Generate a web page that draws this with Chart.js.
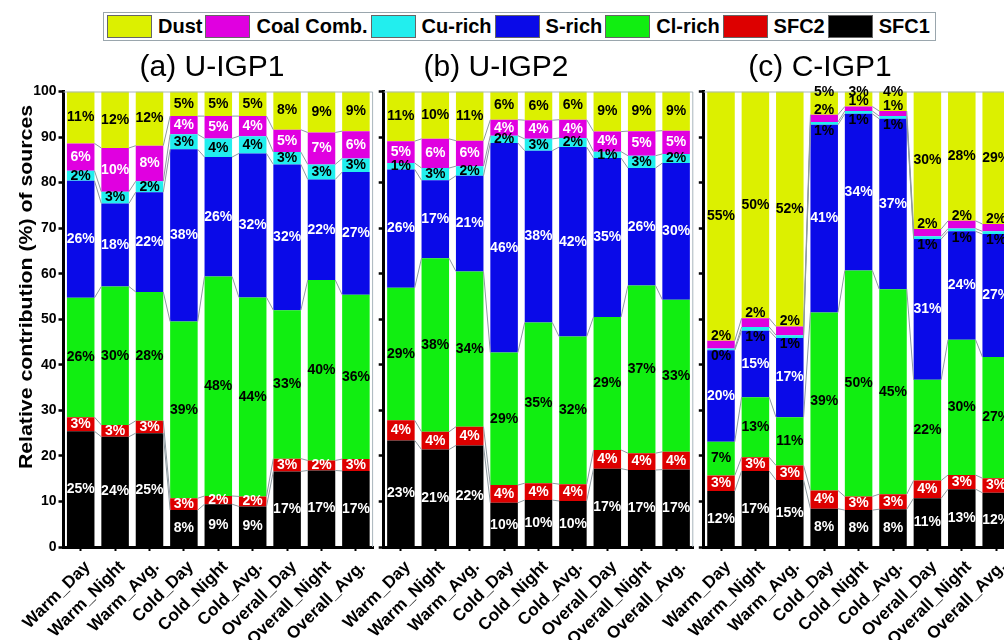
<!DOCTYPE html>
<html>
<head>
<meta charset="utf-8">
<title>Relative contribution of sources</title>
<script src="https://cdn.jsdelivr.net/npm/chart.js@4.4.1/dist/chart.umd.min.js"></script>
<style>
  html, body { margin: 0; padding: 0; background: #fff; width: 1004px; height: 640px; overflow: hidden; }
  #stage { position: relative; width: 1004px; height: 640px; overflow: hidden; background: #fff; }
  #stage canvas { position: absolute; left: 0; top: 0; }
  #legend {
    position: absolute; left: 103px; top: 12px; width: 828px; height: 27px;
    padding-left: 3px; border: 1px solid #9aa6ad; display: flex; align-items: center;
    font: bold 20px "Liberation Sans", Arial, sans-serif; color: #000; z-index: 5; background: #fff;
  }
  #legend .sw { width: 45px; height: 23px; box-sizing: border-box; border: 1px solid #666; margin-right: 6px; flex: none; }
  #legend .tx { margin-right: 3px; white-space: nowrap; line-height: 23px; }
</style>
</head>
<body>
<div id="stage">
  <div id="legend"></div>
  <canvas id="panelA" width="1004" height="640"></canvas>
  <canvas id="panelB" width="1004" height="640"></canvas>
  <canvas id="panelC" width="1040" height="640"></canvas>
</div>
<script>
// ---- data (%) ----
const categories = ['Warm_Day', 'Warm_Night', 'Warm_Avg.', 'Cold_Day', 'Cold_Night', 'Cold_Avg.',
                    'Overall_Day', 'Overall_Night', 'Overall_Avg.'];
const sources = ['SFC1', 'SFC2', 'Cl-rich', 'S-rich', 'Cu-rich', 'Coal Comb.', 'Dust'];
const legendOrder = ['Dust', 'Coal Comb.', 'Cu-rich', 'S-rich', 'Cl-rich', 'SFC2', 'SFC1'];
const panelTitles = ['(a) U-IGP1', '(b) U-IGP2', '(c) C-IGP1'];
const yTickStep = 10;
const yMax = 100;

// U-IGP1
const UIGP1_SFC1 = [25.4, 24.2, 25.0, 8.1, 9.4, 8.9, 16.6, 16.8, 16.7];
const UIGP1_SFC2 = [3.1, 2.6, 2.7, 2.6, 1.8, 2.2, 2.8, 2.2, 2.6];
const UIGP1_Cl   = [26.2, 30.4, 28.3, 38.8, 48.2, 43.7, 32.6, 39.6, 36.1];
const UIGP1_S    = [25.7, 18.2, 21.9, 37.8, 26.2, 31.6, 32.0, 22.1, 26.9];
const UIGP1_Cu   = [2.2, 2.6, 2.4, 3.3, 4.1, 3.8, 2.7, 3.3, 3.0];
const UIGP1_Coal = [6.0, 9.6, 7.8, 4.0, 4.9, 4.4, 4.9, 7.0, 6.0];
const UIGP1_Dust = [11.4, 12.4, 11.9, 5.4, 5.4, 5.4, 8.4, 9.0, 8.7];

// U-IGP2
const UIGP2_SFC1 = [23.4, 21.4, 22.3, 9.7, 10.3, 10.1, 17.2, 16.9, 17.0];
const UIGP2_SFC2 = [4.4, 3.9, 4.1, 3.9, 3.7, 3.7, 4.1, 3.7, 3.9];
const UIGP2_Cl   = [29.1, 38.1, 34.1, 29.1, 35.3, 32.4, 29.2, 36.8, 33.4];
const UIGP2_S    = [26.0, 17.1, 21.0, 46.0, 37.7, 41.6, 34.9, 25.8, 30.0];
const UIGP2_Cu   = [1.4, 2.7, 2.1, 1.6, 2.6, 2.0, 1.4, 2.7, 2.0];
const UIGP2_Coal = [4.8, 6.4, 5.6, 3.5, 4.1, 4.0, 4.4, 5.4, 5.1];
const UIGP2_Dust = [10.9, 10.4, 10.8, 6.2, 6.3, 6.2, 8.8, 8.7, 8.6];

// C-IGP1
const CIGP1_SFC1 = [12.3, 16.7, 14.7, 8.4, 8.1, 8.3, 10.7, 12.7, 11.9];
const CIGP1_SFC2 = [3.4, 3.0, 3.2, 4.0, 3.0, 3.3, 3.9, 3.1, 3.2];
const CIGP1_Cl   = [7.4, 13.2, 10.6, 39.1, 49.6, 45.0, 22.1, 29.7, 26.6];
const CIGP1_S    = [20.1, 14.6, 17.4, 41.2, 34.4, 37.4, 30.9, 23.8, 27.0];
const CIGP1_Cu   = [0.4, 0.8, 0.6, 0.6, 0.6, 0.6, 0.6, 0.6, 0.6];
const CIGP1_Coal = [1.7, 1.9, 1.9, 1.6, 1.0, 1.1, 1.6, 1.7, 1.6];
const CIGP1_Dust = [54.7, 49.8, 51.6, 5.1, 3.3, 4.3, 30.2, 28.4, 29.1];

// ---- styling ----
const FONT = '"Liberation Sans", Arial, Helvetica, sans-serif';
Chart.defaults.font.family = FONT;
const sourceColors = {
  'SFC1': '#000000', 'SFC2': '#dd0000', 'Cl-rich': '#11ee11', 'S-rich': '#0a0ae8',
  'Cu-rich': '#22eeee', 'Coal Comb.': '#e000e0', 'Dust': '#dcf000'
};
const labelColors = {
  'SFC1': '#fff', 'SFC2': '#fff', 'Cl-rich': '#000', 'S-rich': '#fff',
  'Cu-rich': '#000', 'Coal Comb.': '#fff', 'Dust': '#000'
};

// legend strip
const legendEl = document.getElementById('legend');
legendOrder.forEach(name => {
  const sw = document.createElement('span');
  sw.className = 'sw';
  sw.style.background = sourceColors[name];
  const tx = document.createElement('span');
  tx.className = 'tx';
  tx.textContent = name;
  legendEl.appendChild(sw);
  legendEl.appendChild(tx);
});

// common frame geometry
const PLOT_TOP = 91.5, PLOT_BOTTOM = 547, PLOT_W = 309.6, CANVAS_H = 640;

const panels = [
  { canvas: 'panelA', left: 63.5, titleX: 212, yLabels: true, thinStrips: false,
    series: [UIGP1_SFC1, UIGP1_SFC2, UIGP1_Cl, UIGP1_S, UIGP1_Cu, UIGP1_Coal, UIGP1_Dust] },
  { canvas: 'panelB', left: 383.7, titleX: 496, yLabels: false, thinStrips: false,
    series: [UIGP2_SFC1, UIGP2_SFC2, UIGP2_Cl, UIGP2_S, UIGP2_Cu, UIGP2_Coal, UIGP2_Dust] },
  { canvas: 'panelC', left: 703.8, titleX: 820, yLabels: false, thinStrips: true,
    series: [CIGP1_SFC1, CIGP1_SFC2, CIGP1_Cl, CIGP1_S, CIGP1_Cu, CIGP1_Coal, CIGP1_Dust] }
];

// connector lines, frame, segment labels, panel title, y-axis title
const decorations = {
  id: 'decorations',
  afterDatasetsDraw(chart, args, opts) {
    const ctx = chart.ctx, ys = chart.scales.y, area = chart.chartArea;
    const sets = chart.data.datasets;
    ctx.save();

    // thin grey lines joining matching segment tops of neighbouring bars
    ctx.strokeStyle = '#8e9aa0';
    ctx.lineWidth = 1;
    ctx.beginPath();
    for (let d = 0; d < sets.length - 1; d++) {
      const bars = chart.getDatasetMeta(d).data;
      for (let i = 0; i < bars.length - 1; i++) {
        const a = bars[i], b = bars[i + 1];
        ctx.moveTo(a.x + a.width / 2, a.y);
        ctx.lineTo(b.x - b.width / 2, b.y);
      }
    }
    ctx.stroke();

    // light top/right frame
    ctx.strokeStyle = '#a9b6bc';
    ctx.beginPath();
    ctx.moveTo(area.left, area.top + 0.5);
    ctx.lineTo(area.right - 0.5, area.top + 0.5);
    ctx.lineTo(area.right - 0.5, area.bottom);
    ctx.stroke();

    // value labels
    ctx.font = 'bold 14px ' + FONT;
    ctx.textAlign = 'center';
    ctx.textBaseline = 'middle';
    sets.forEach((ds, d) => {
      const name = ds.label;
      chart.getDatasetMeta(d).data.forEach((bar, i) => {
        const v = ds.data[i];
        let below = 0;
        for (let k = 0; k < d; k++) below += sets[k].data[i];
        let cy = (bar.y + bar.base) / 2;
        let color = labelColors[name];
        if (opts.thinStrips) {
          if (name === 'Cu-rich') { cy = ys.getPixelForValue(below - 1.4); color = '#000'; }
          else if (name === 'Coal Comb.') { cy = ys.getPixelForValue(below + v + 1.1); color = '#000'; }
          else if (name === 'Dust' && v < 8) { cy = ys.getPixelForValue(99.8); }
        }
        ctx.fillStyle = color;
        ctx.fillText(Math.round(v) + '%', bar.x, cy);
      });
    });

    // panel title
    ctx.fillStyle = '#000';
    ctx.font = '30px ' + FONT;
    ctx.textBaseline = 'alphabetic';
    ctx.fillText(opts.title, opts.titleX, 76);

    // y-axis title
    if (opts.yTitle) {
      ctx.save();
      ctx.translate(27, 287);
      ctx.rotate(-Math.PI / 2);
      ctx.scale(1.12, 1);
      ctx.font = 'bold 19px ' + FONT;
      ctx.textBaseline = 'middle';
      ctx.fillText(opts.yTitle, 0, 0);
      ctx.restore();
    }
    ctx.restore();
  }
};

panels.forEach((p, idx) => {
  const canvas = document.getElementById(p.canvas);
  const cw = canvas.width;
  const right = p.left + PLOT_W;
  new Chart(canvas, {
    type: 'bar',
    data: {
      labels: categories,
      datasets: sources.map((name, k) => ({
        label: name,
        data: p.series[k],
        backgroundColor: sourceColors[name],
        borderWidth: 0,
        categoryPercentage: 1.0,
        barPercentage: 0.8
      }))
    },
    options: {
      responsive: false,
      animation: false,
      events: [],
      layout: { padding: { left: 0, top: PLOT_TOP, right: cw - right, bottom: 0 } },
      plugins: {
        legend: { display: false },
        tooltip: { enabled: false },
        decorations: {
          title: panelTitles[idx], titleX: p.titleX, thinStrips: p.thinStrips,
          yTitle: p.yLabels ? 'Relative contribution (%) of sources' : null
        }
      },
      scales: {
        x: {
          stacked: true,
          offset: true,
          grid: { display: true, drawOnChartArea: false, offset: false, drawTicks: true,
                  tickLength: 4, tickWidth: 2, tickColor: '#000' },
          border: { display: true, width: 3, color: '#000' },
          ticks: { autoSkip: false, maxRotation: 45, minRotation: 45, padding: 6, labelOffset: 7,
                   color: '#000', font: { size: 17, weight: 'bold' } },
          afterFit(s) { s.height = CANVAS_H - PLOT_BOTTOM; }
        },
        y: {
          stacked: true,
          min: 0,
          max: yMax,
          grid: { display: true, drawOnChartArea: false, drawTicks: true,
                  tickLength: 5, tickWidth: 2.5, tickColor: '#000' },
          border: { display: true, width: 3, color: '#000' },
          ticks: { stepSize: yTickStep, display: p.yLabels, padding: 2, color: '#000',
                   font: { size: 14, weight: 'bold' } },
          afterFit(s) { s.width = p.left; }
        }
      }
    },
    plugins: [decorations]
  });
});
</script>
</body>
</html>
